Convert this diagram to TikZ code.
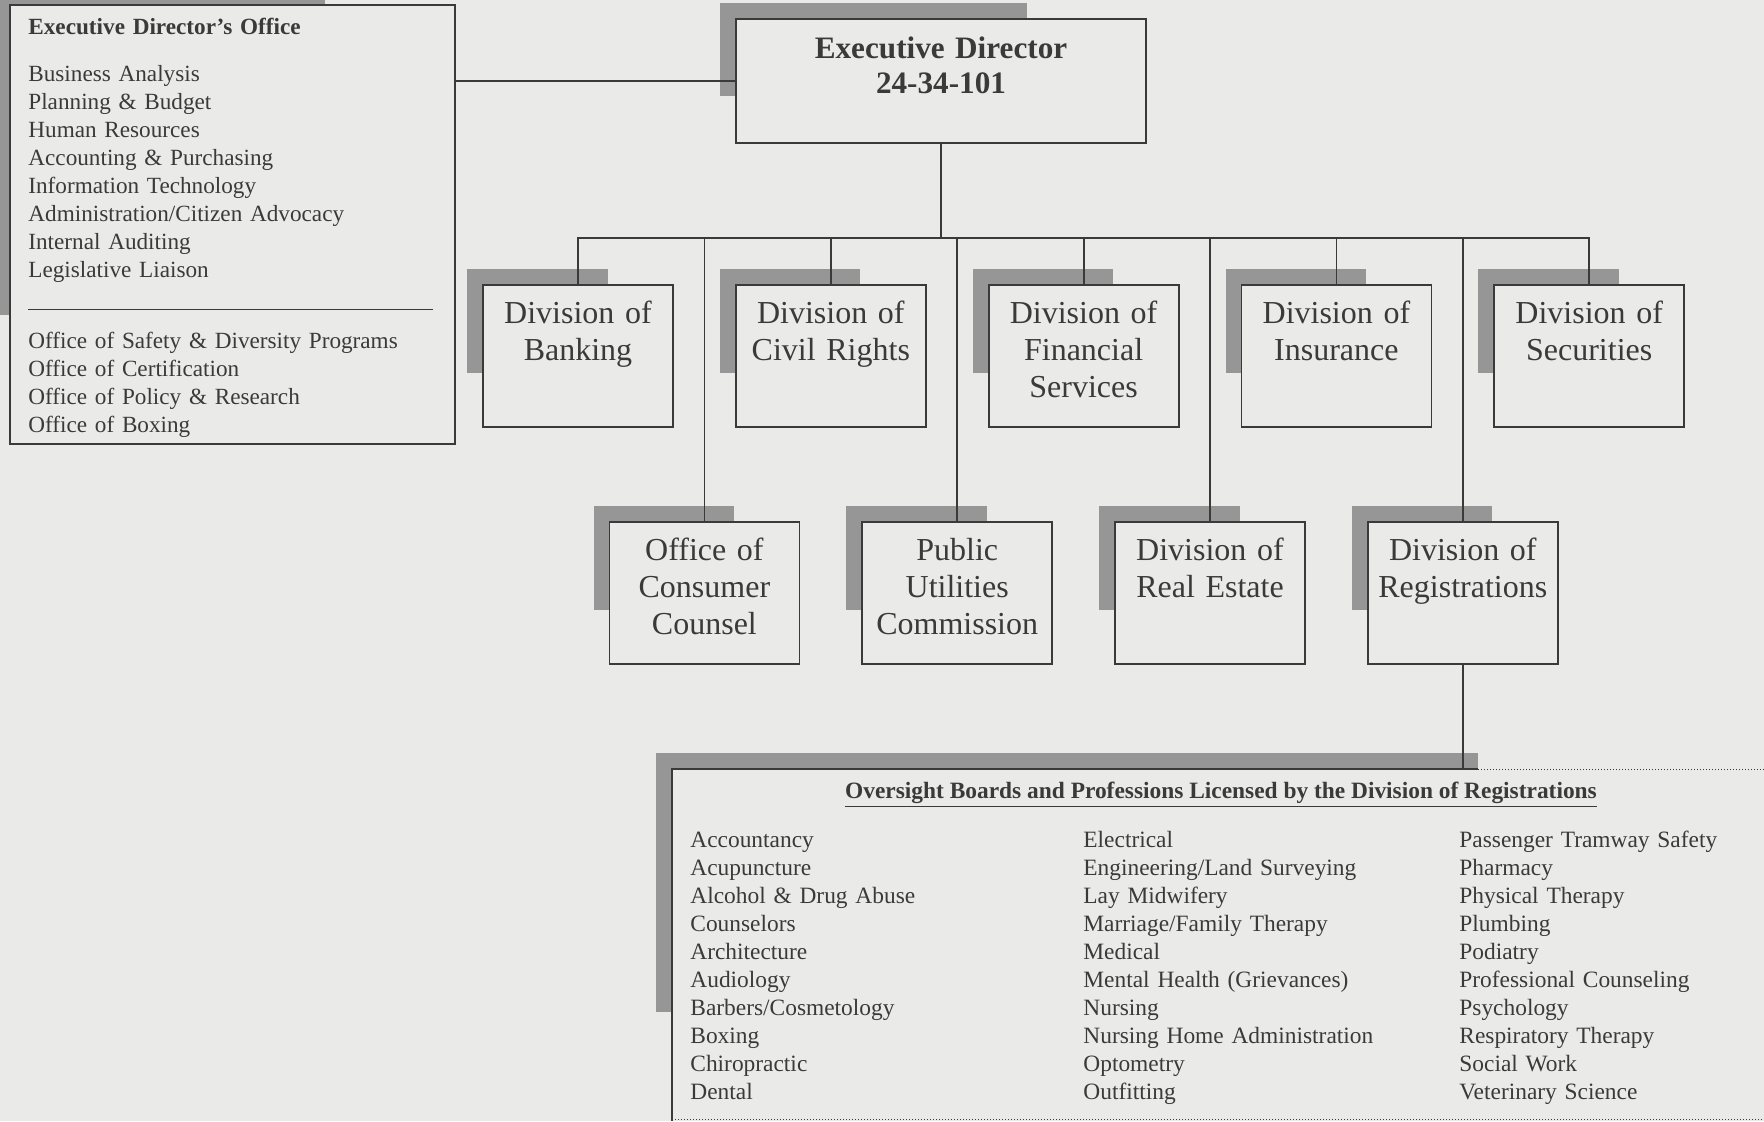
\documentclass[tikz,border=0pt]{standalone}
\usepackage{fontspec}
\setmainfont{Liberation Serif}
\usetikzlibrary{backgrounds,calc,positioning}
\definecolor{paper}{RGB}{234,234,232}
\definecolor{ink}{RGB}{58,58,58}
\definecolor{shade}{RGB}{150,150,150}
\def\fignodewidth{95pt}
\def\fignodeheight{71pt}
\def\fignodesep{30.5pt}
\def\figrowsep{46.5pt}
\def\figshadowsep{7.5pt}
\def\figtextheight{19.5pt}
\def\figtextdepth{51.5pt}

\begin{document}
\begin{tikzpicture}[
  node distance=\fignodesep,
  line/.style={draw=ink,line width=0.9pt},
  box/.style={line,fill=paper,text=ink,inner xsep=2pt,inner ysep=0pt,
    text width=91pt,align=center,
    text height=\figtextheight,text depth=\figtextdepth,
    font=\fontsize{16}{18.5}\selectfont},
  headbox/.style={line,fill=paper,text=ink,inner xsep=2pt,inner ysep=0pt,
    text width=201pt,align=center,
    text height=19.5pt,text depth=42.5pt,
    font=\bfseries\fontsize{15.6}{17.5}\selectfont},
  list/.style={text=ink,inner sep=0pt,align=left,anchor=base west,
    font=\fontsize{11.6}{14}\selectfont},
  boards/.style={text=ink,inner sep=0pt,align=left,anchor=base west,text width=180pt,
    font=\fontsize{11.7}{14}\selectfont},
  shadow/.style={fill=shade},
]
\useasboundingbox (0,0) rectangle (882pt,-560.5pt);

%%%%%%%%%%%%%%%
% Top Part
%%%%%%%%%%%%%%%
\node (ed) [headbox] at (470.5pt,-40.5pt) {Executive Director\\24-34-101};

\node (eo) [line,fill=paper,minimum width=222.5pt,minimum height=219.5pt,anchor=north west] at (4.5pt,-2pt) {};
\node (eotext) [list,text width=209.5pt] at ($(eo.north west)+(9.5pt,-15pt)$) {%
  {\bfseries Executive Director's Office}\\[9.5pt]
  Business Analysis\\
  Planning \& Budget\\
  Human Resources\\
  Accounting \& Purchasing\\
  Information Technology\\
  Administration/Citizen Advocacy\\
  Internal Auditing\\
  Legislative Liaison\\[2.5pt]
  \rule{202.5pt}{0.7pt}\\[5pt]
  Office of Safety \& Diversity Programs\\
  Office of Certification\\
  Office of Policy \& Research\\
  Office of Boxing};

\coordinate (hub) at ($(ed.south)+(0,-47pt)$);

%%%%%%%%%%%%%%%
% Divisions
%%%%%%%%%%%%%%%
% First Row
\node (b1) [box,anchor=north] at (289pt,-142pt) {Division of\\Banking};
\node (b2) [box,right=of b1] {Division of\\Civil Rights};
\node (b3) [box,right=of b2] {Division of\\Financial\\Services};
\node (b4) [box,right=of b3] {Division of\\Insurance};
\node (b5) [box,right=of b4] {Division of\\Securities};

%%%%%%%%%%%%%%%
% Second Row
\node (c1) [box,anchor=north] at ($(b1.south)!.5!(b2.south)+(0,-\figrowsep)$) {Office of\\Consumer\\Counsel};
\node (c2) [box,right=of c1] {Public\\Utilities\\Commission};
\node (c3) [box,right=of c2] {Division of\\Real Estate};
\node (c4) [box,right=of c3] {Division of\\Registrations};

%%%%%%%%%%%%%%%
% Oversight Boards
%%%%%%%%%%%%%%%
\node (ov) [fill=paper,minimum width=560pt,minimum height=175.5pt,anchor=north west,inner sep=0pt] at (336pt,-384.5pt) {};
\node (ovt) [text=ink,inner sep=0pt,anchor=base,font=\bfseries\fontsize{11.7}{14}\selectfont]
  at ($(ov.north west)+(274.5pt,-14.5pt)$) {\underline{Oversight Boards and Professions Licensed by the Division of Registrations}};
\node (ov1) [boards] at ($(ov.north west)+(9pt,-39pt)$) {Accountancy\\Acupuncture\\Alcohol \& Drug Abuse\\Counselors\\Architecture\\Audiology\\Barbers/Cosmetology\\Boxing\\Chiropractic\\Dental};
\node (ov2) [boards] at ($(ov.north west)+(205.5pt,-39pt)$) {Electrical\\Engineering/Land Surveying\\Lay Midwifery\\Marriage/Family Therapy\\Medical\\Mental Health (Grievances)\\Nursing\\Nursing Home Administration\\Optometry\\Outfitting};
\node (ov3) [boards,text width=145pt] at ($(ov.north west)+(393.5pt,-39pt)$) {Passenger Tramway Safety\\Pharmacy\\Physical Therapy\\Plumbing\\Podiatry\\Professional Counseling\\Psychology\\Respiratory Therapy\\Social Work\\Veterinary Science};

\draw [line] (ov.south west) -- (ov.north west) -- ++(403pt,0);
\draw [draw=ink,line width=0.5pt,densely dotted] ($(ov.north west)+(403pt,0)$) -- (ov.north east);
\draw [draw=ink,line width=0.5pt,densely dotted] ($(ov.south west)+(0,0.6pt)$) -- ($(ov.south east)+(0,0.6pt)$);

%%%%%%%%%%%%%%%
% Connectors
%%%%%%%%%%%%%%%
\draw [line] (ed.west) -- (ed.west -| eo.east);
\draw [line] (ed.south) -- (hub);
\draw [line] (b1.north) |- (hub) -| (b5.north);
\foreach \n in {b2,b3,b4,c1,c2,c3,c4}
  \draw [line] (\n.north) -- (\n.north |- hub);
\draw [line] (c4.south) -- (c4.south |- ov.north);

%%%%%%%%%%%%%%%
% Background
\begin{scope}[on background layer]
\fill [paper] (0,0) rectangle (882pt,-560.5pt);
\fill [shadow] ($(eo.north west)+(-\figshadowsep,\figshadowsep)$) rectangle ($(eo.north west)+(158pt,-155.5pt)$);
\fill [shadow] ($(ed.north west)+(-\figshadowsep,\figshadowsep)$) rectangle ($(ed.north west)+(146pt,-39pt)$);
\foreach \n in {b1,b2,b3,b4,b5,c1,c2,c3,c4}
  \fill [shadow] ($(\n.north west)+(-\figshadowsep,\figshadowsep)$) rectangle ($(\n.north west)+(.66*\fignodewidth,-.63*\fignodeheight)$);
\fill [shadow] ($(ov.north west)+(-8pt,8pt)$) rectangle ($(ov.north west)+(403pt,-121.5pt)$);
\end{scope}

\end{tikzpicture}
\end{document}
